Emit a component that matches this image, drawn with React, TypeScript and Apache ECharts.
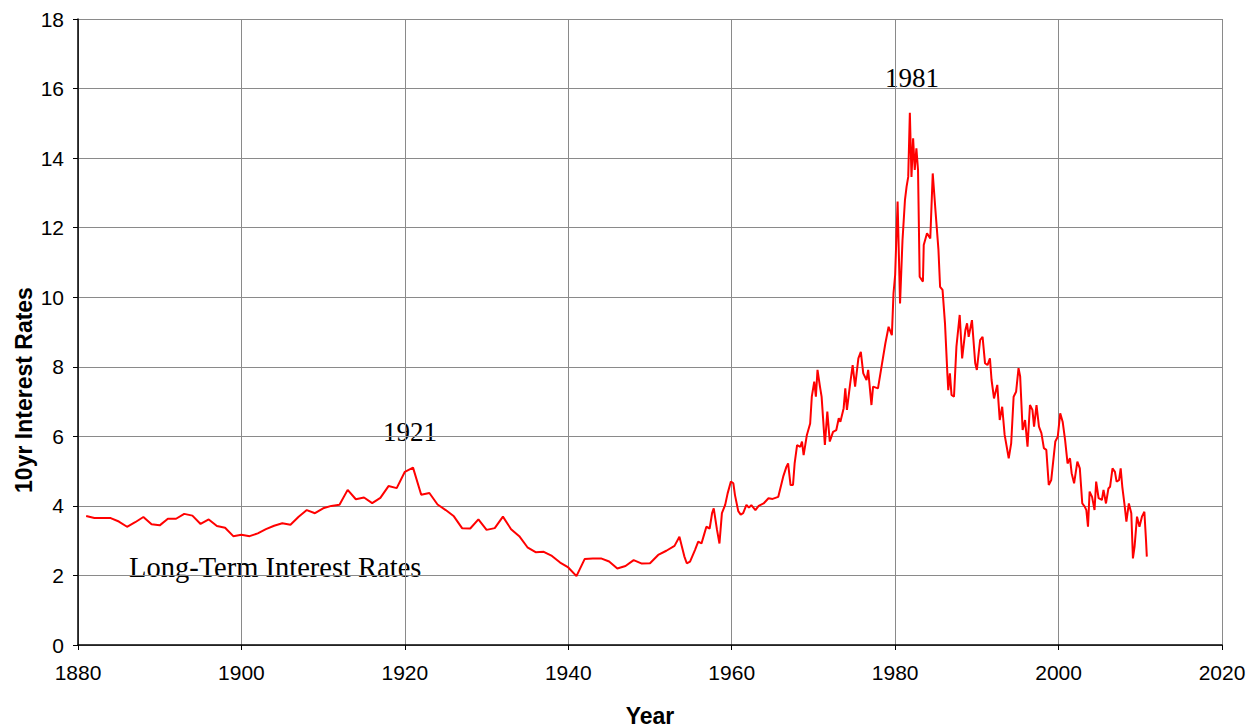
import React, { useEffect, useRef } from "react";
import * as echarts from "echarts";

const xTicks = [1880, 1900, 1920, 1940, 1960, 1980, 2000, 2020];
const yTicks = [0, 2, 4, 6, 8, 10, 12, 14, 16, 18];

const annualYears = [
  1881, 1882, 1883, 1884, 1885, 1886, 1887, 1888, 1889, 1890,
  1891, 1892, 1893, 1894, 1895, 1896, 1897, 1898, 1899, 1900,
  1901, 1902, 1903, 1904, 1905, 1906, 1907, 1908, 1909, 1910,
  1911, 1912, 1913, 1914, 1915, 1916, 1917, 1918, 1919, 1920,
  1921, 1922, 1923, 1924, 1925, 1926, 1927, 1928, 1929, 1930,
  1931, 1932, 1933, 1934, 1935, 1936, 1937, 1938, 1939, 1940,
  1941, 1942, 1943, 1944, 1945, 1946, 1947, 1948, 1949, 1950,
  1951, 1952, 1953,
];
const annualRates = [
  3.71, 3.65, 3.65, 3.65, 3.55, 3.40, 3.53, 3.68, 3.47, 3.44,
  3.63, 3.63, 3.77, 3.72, 3.48, 3.61, 3.42, 3.37, 3.13, 3.17,
  3.13, 3.21, 3.33, 3.43, 3.50, 3.46, 3.69, 3.88, 3.79, 3.93,
  4.00, 4.03, 4.46, 4.19, 4.24, 4.08, 4.23, 4.57, 4.51, 4.98,
  5.10, 4.32, 4.37, 4.04, 3.88, 3.70, 3.36, 3.35, 3.61, 3.31,
  3.36, 3.69, 3.33, 3.13, 2.81, 2.67, 2.68, 2.56, 2.37, 2.23,
  1.98, 2.47, 2.49, 2.49, 2.40, 2.20, 2.27, 2.44, 2.34, 2.35,
  2.59, 2.71, 2.85,
];

const monthlyYears = [
  1953.6, 1953.9, 1954.2, 1954.5, 1954.9, 1955.5, 1955.9, 1956.3, 1956.6, 1956.9,
  1957.3, 1957.6, 1957.8, 1958.2, 1958.5, 1958.8, 1959.2, 1959.5, 1959.9, 1960.2,
  1960.4, 1960.8, 1961.1, 1961.4, 1961.8, 1962.1, 1962.4, 1962.9, 1963.3, 1963.9,
  1964.5, 1965.0, 1965.7, 1966.3, 1966.7, 1966.9, 1967.2, 1967.5, 1967.7, 1968.0,
  1968.4, 1968.6, 1968.8, 1969.2, 1969.6, 1969.8, 1970.1, 1970.3, 1970.5, 1970.8,
  1971.0, 1971.4, 1971.7, 1972.0, 1972.4, 1972.8, 1973.1, 1973.3, 1973.7, 1973.9,
  1974.1, 1974.5, 1974.8, 1975.1, 1975.5, 1975.8, 1976.1, 1976.5, 1976.7, 1977.1,
  1977.3, 1977.9, 1978.4, 1978.8, 1979.2, 1979.6, 1979.8, 1980.0, 1980.3, 1980.6,
  1980.9, 1981.2, 1981.4, 1981.6, 1981.8, 1982.0, 1982.2, 1982.4, 1982.6, 1982.8,
  1983.0, 1983.4, 1983.5, 1983.9, 1984.3, 1984.6, 1984.9, 1985.3, 1985.5, 1985.8,
  1986.1, 1986.4, 1986.5, 1986.7, 1986.9, 1987.2, 1987.5, 1987.9, 1988.2, 1988.6,
  1988.8, 1989.0, 1989.4, 1989.8, 1990.0, 1990.4, 1990.7, 1991.0, 1991.3, 1991.6,
  1991.8, 1992.1, 1992.5, 1992.8, 1993.1, 1993.4, 1993.9, 1994.2, 1994.5, 1994.8,
  1995.1, 1995.3, 1995.6, 1995.9, 1996.2, 1996.5, 1996.8, 1997.0, 1997.3, 1997.6,
  1997.9, 1998.2, 1998.5, 1998.8, 1999.1, 1999.6, 1999.9, 2000.2, 2000.5, 2000.8,
  2001.1, 2001.4, 2001.6, 2001.9, 2002.3, 2002.6, 2002.9, 2003.2, 2003.4, 2003.6,
  2003.8, 2004.1, 2004.4, 2004.6, 2004.9, 2005.3, 2005.5, 2005.8, 2006.1, 2006.3,
  2006.6, 2006.9, 2007.1, 2007.4, 2007.6, 2007.8, 2008.1, 2008.3, 2008.6, 2008.9,
  2009.1, 2009.3, 2009.6, 2009.9, 2010.2, 2010.5, 2010.7, 2010.8,
];
const monthlyRates = [
  3.11, 2.83, 2.55, 2.35, 2.40, 2.73, 2.97, 2.92, 3.16, 3.40,
  3.35, 3.79, 3.93, 3.31, 2.92, 3.79, 4.03, 4.36, 4.70, 4.65,
  4.31, 3.85, 3.75, 3.79, 4.03, 3.95, 4.02, 3.88, 4.00, 4.07,
  4.22, 4.20, 4.26, 4.84, 5.13, 5.22, 4.60, 4.60, 5.22, 5.75,
  5.70, 5.85, 5.46, 6.04, 6.37, 7.14, 7.57, 7.14, 7.91, 7.43,
  7.14, 5.75, 6.71, 5.85, 6.13, 6.18, 6.52, 6.42, 6.81, 7.38,
  6.76, 7.52, 8.05, 7.43, 8.24, 8.43, 7.81, 7.62, 7.91, 6.90,
  7.43, 7.38, 8.10, 8.67, 9.15, 8.91, 10.11, 10.64, 12.75, 9.82,
  11.64, 12.79, 13.18, 13.46, 15.30, 13.46, 14.57, 13.66, 14.28, 13.66,
  10.59, 10.45, 11.50, 11.84, 11.69, 13.56, 12.60, 11.36, 10.30, 10.21,
  9.25, 7.76, 7.33, 7.81, 7.19, 7.14, 8.58, 9.49, 8.24, 9.06,
  9.25, 8.86, 9.34, 8.10, 7.91, 8.77, 8.86, 8.10, 8.05, 8.24,
  7.62, 7.09, 7.48, 6.47, 6.85, 6.04, 5.37, 5.80, 7.14, 7.28,
  7.96, 7.72, 6.18, 6.47, 5.70, 6.90, 6.76, 6.28, 6.90, 6.28,
  6.09, 5.66, 5.61, 4.60, 4.74, 5.85, 5.99, 6.66, 6.42, 5.89,
  5.22, 5.37, 4.94, 4.65, 5.27, 5.08, 4.07, 3.98, 3.88, 3.40,
  4.41, 4.26, 3.88, 4.70, 4.22, 4.17, 4.46, 4.07, 4.50, 4.55,
  5.08, 4.98, 4.70, 4.74, 5.08, 4.55, 3.98, 3.55, 4.07, 3.79,
  2.49, 2.83, 3.69, 3.40, 3.69, 3.83, 3.02, 2.54,
];

const yAxisTitle = "10yr Interest Rates";
const xAxisTitle = "Year";
const seriesName = "Long-Term Interest Rates";
const peakLabels = ["1921", "1981"];

const SANS = "Liberation Sans, Arial, sans-serif";
const SERIF = "Liberation Serif, Times New Roman, serif";

export default function App() {
  const ref = useRef<HTMLDivElement>(null);

  useEffect(() => {
    if (!ref.current) return;
    const chart = echarts.init(ref.current, undefined, { renderer: "svg" });
    const years = [...annualYears, ...monthlyYears];
    const rates = [...annualRates, ...monthlyRates];
    const data = years.map((y, i) => [y, rates[i]]);

    chart.setOption({
      animation: false,
      backgroundColor: "#ffffff",
      grid: {
        left: 78,
        right: 34,
        top: 19,
        bottom: 82,
        containLabel: false,
        outerBoundsMode: "none",
      },
      xAxis: {
        type: "value",
        min: xTicks[0],
        max: xTicks[xTicks.length - 1],
        interval: 20,
        name: xAxisTitle,
        nameLocation: "middle",
        nameGap: 59,
        nameTextStyle: { fontFamily: SANS, fontWeight: "bold", fontSize: 23, color: "#000" },
        axisLine: { show: true, onZero: false, lineStyle: { color: "#000", width: 1.5 } },
        axisTick: { show: true, length: 5, lineStyle: { color: "#000" } },
        axisLabel: {
          margin: 17,
          fontFamily: SANS,
          fontSize: 21,
          color: "#000",
          formatter: (v: number) => String(v),
        },
        splitLine: { show: true, lineStyle: { color: "#8a8a8a", width: 1 } },
      },
      yAxis: {
        type: "value",
        min: yTicks[0],
        max: yTicks[yTicks.length - 1],
        interval: 2,
        axisLine: { show: true, onZero: false, lineStyle: { color: "#000", width: 1.5 } },
        axisTick: { show: true, length: 5, lineStyle: { color: "#000" } },
        axisLabel: { margin: 14, fontFamily: SANS, fontSize: 21, color: "#000" },
        splitLine: { show: true, lineStyle: { color: "#8a8a8a", width: 1 } },
      },
      series: [
        {
          name: seriesName,
          type: "line",
          data,
          showSymbol: false,
          symbol: "none",
          lineStyle: { color: "#ff0000", width: 2 },
          z: 3,
        },
      ],
      graphic: [
        {
          type: "text",
          x: 24,
          y: 390,
          rotation: Math.PI / 2,
          style: {
            text: yAxisTitle,
            fontFamily: SANS,
            fontWeight: "bold",
            fontSize: 23,
            fill: "#000",
            align: "center",
            verticalAlign: "middle",
          },
        },
        {
          type: "text",
          x: 410,
          y: 432,
          style: {
            text: peakLabels[0],
            fontFamily: SERIF,
            fontSize: 27,
            fill: "#000",
            align: "center",
            verticalAlign: "middle",
          },
        },
        {
          type: "text",
          x: 912,
          y: 78,
          style: {
            text: peakLabels[1],
            fontFamily: SERIF,
            fontSize: 27,
            fill: "#000",
            align: "center",
            verticalAlign: "middle",
          },
        },
        {
          type: "text",
          x: 129,
          y: 567,
          style: {
            text: seriesName,
            fontFamily: SERIF,
            fontSize: 28.5,
            fill: "#000",
            align: "left",
            verticalAlign: "middle",
          },
        },
      ],
    });

    return () => chart.dispose();
  }, []);

  return (
    <div
      ref={ref}
      style={{ position: "absolute", left: 0, top: 0, width: 1256, height: 727 }}
    />
  );
}
